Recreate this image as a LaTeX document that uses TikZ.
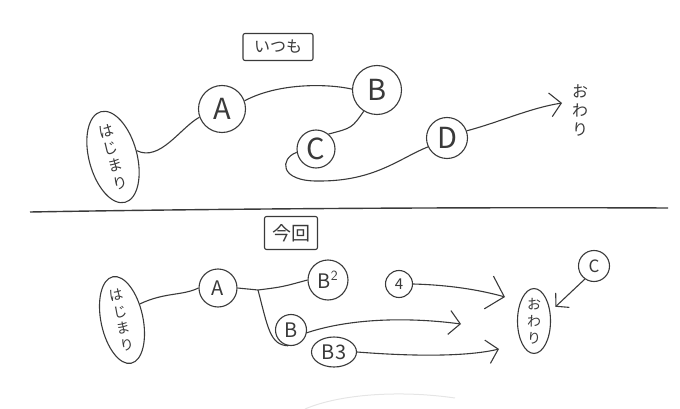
\documentclass[tikz,border=0pt]{standalone}
\usepackage{fontspec}
\newfontfamily\jp{Noto Sans CJK JP}
\usetikzlibrary{arrows.meta}
\usetikzlibrary{shapes.geometric}
\definecolor{pencil}{HTML}{3A3A3A}
\tikzset{
  treenode/.style = {align=center, inner sep=0pt, text centered,
    font=\jp, text=pencil, draw=pencil, line width=1.1pt},
  big_n/.style = {treenode, circle, minimum size=44pt,
    font=\jp\fontsize{29}{29}\selectfont},% upper row, letters
  small_n/.style = {treenode, circle, minimum size=33pt,
    font=\jp\fontsize{20}{20}\selectfont},% lower row, letters
  start_n/.style = {treenode, ellipse, minimum width=48pt,
    minimum height=76pt, font=\jp\fontsize{15}{18}\selectfont},% start
  end_n/.style = {treenode, ellipse, minimum width=33pt,
    minimum height=64pt, font=\jp\fontsize{14}{17}\selectfont},% goal
  title_n/.style = {treenode, rectangle, rounded corners=2pt,
    font=\jp\fontsize{16}{16}\selectfont},% heading box
  wire/.style = {draw=pencil, line width=1.1pt},
}

\begin{document}
\begin{tikzpicture}[x=1pt,y=-1pt,wire,>={Straight Barb[length=11pt,width=24pt]}]
\useasboundingbox (0,0) rectangle (680,409);

% upper half
\node [title_n, minimum width=70pt, minimum height=27pt] (usual) at (278,47) {いつも};
\node [start_n, rotate=15] (hajU) at (113,157) {は\\じ\\ま\\り};
\node [big_n, minimum height=47pt] (aU) at (222,109) {A};
\node [big_n, minimum height=49pt] (bU) at (377,90) {B};
\node [big_n, minimum size=38pt] (cU) at (316,149) {C};
\node [big_n, minimum size=41pt] (dU) at (447,138) {D};
\node [treenode, draw=none, font=\jp\fontsize{16}{19}\selectfont] (owU) at (580,111) {お\\わ\\り};
\coordinate (endU) at (562,103);

\draw (hajU.east) .. controls (160,162) and (180,128) .. (aU.200);
\draw (aU.20) .. controls (280,82) and (330,84) .. (bU.178);
\draw (bU.238) .. controls (352,128) .. (cU.50);
\draw (cU.190) .. controls (280,158) and (278,182) .. (320,181)
  .. controls (375,181) and (400,158) .. (dU.205);
\draw [->] (dU.20) .. controls (500,122) and (530,108) .. (endU);

% divider
\draw [line width=1.4pt] (30,212) .. controls (200,209) and (450,207) .. (668,208);

% lower half
\node [title_n, minimum width=53pt, minimum height=33pt,
  font=\jp\fontsize{19}{19}\selectfont] (now) at (291,233) {今回};
\node [start_n, rotate=12, minimum width=42pt, minimum height=75pt,
  font=\jp\fontsize{14}{17}\selectfont] (hajL) at (122,320) {は\\じ\\ま\\り};
\node [small_n, minimum height=38pt] (aL) at (218,288) {A};
\node [small_n, minimum size=40pt] (b2L) at (328,280) {B$^{\mathsf{2}}$};
\node [small_n, minimum size=31pt] (bL) at (291,330) {B};
\node [small_n, ellipse, minimum width=45pt, minimum height=30pt] (b3L) at (334,352) {B3};
\node [small_n, minimum size=27pt, font=\jp\fontsize{15}{15}\selectfont] (fourL) at (399,284) {4};
\node [small_n, minimum size=31pt, font=\jp\fontsize{17}{17}\selectfont] (cL) at (594,266) {C};
\node [end_n] (owL) at (534,321) {お\\わ\\り};
\coordinate (fork) at (258,290);
\coordinate (endB) at (461,324);
\coordinate (endB3) at (499,349);
\coordinate (end4) at (505,297);

\draw (hajL.30) .. controls (165,292) and (182,296) .. (aL.west);
\draw (aL.east) -- (fork) .. controls (282,287) .. (b2L.west);
\draw (fork) .. controls (268,328) and (270,345) .. (bL.260);
\draw [->] (bL.-10) .. controls (345,320) and (400,316) .. (endB);
\draw [->] (b3L.east) .. controls (420,357) and (470,356) .. (endB3);
\draw [->, >={Straight Barb[length=16pt,width=34pt]}] (fourL.east) .. controls (450,285) and (480,290) .. (end4);
\draw [->, >={Straight Barb[length=9pt,width=20pt]}, shorten >=7pt] (cL.235) -- (owL.30);

% faint mark at the bottom
\draw [draw=gray!20, line width=1pt] (305,409) .. controls (340,394) and (400,390) .. (455,398);
\end{tikzpicture}
\end{document}
